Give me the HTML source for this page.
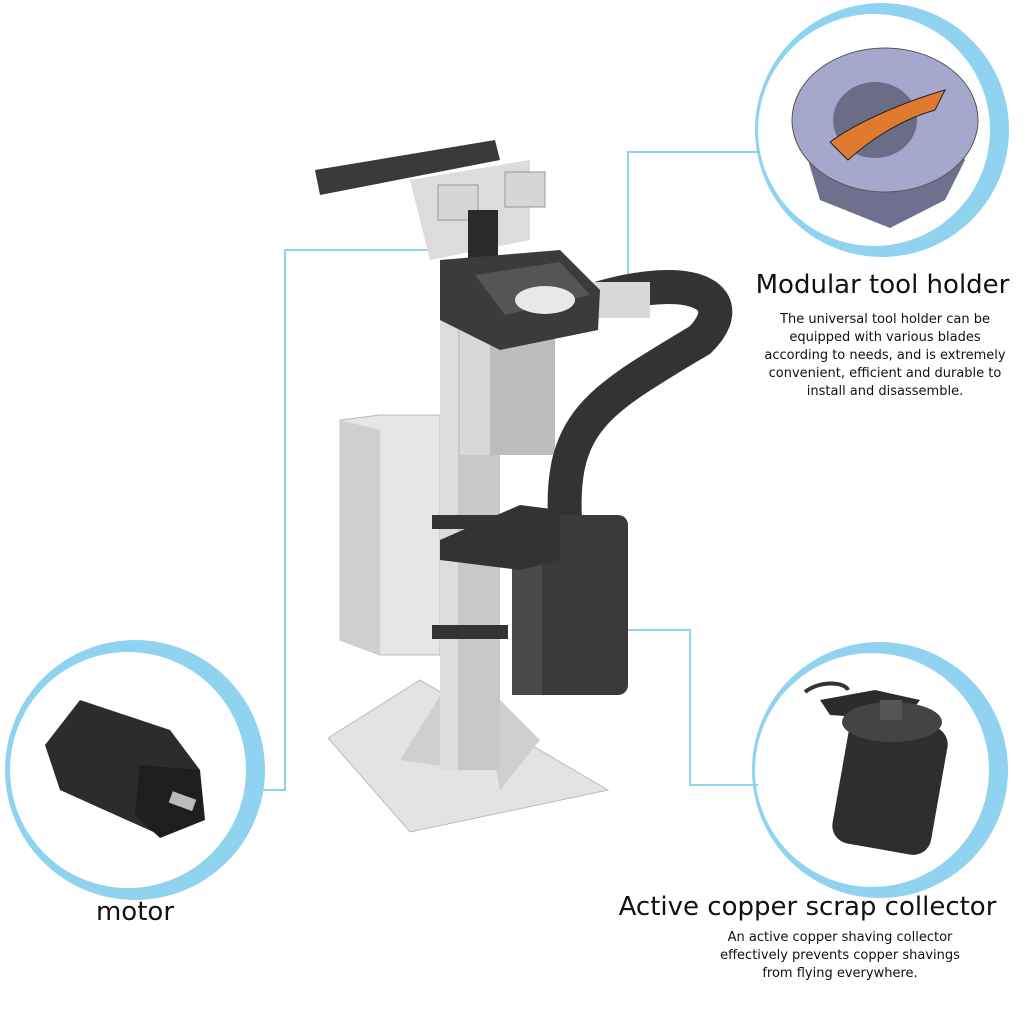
<!DOCTYPE html>
<html><head><meta charset="utf-8"><style>
html,body{margin:0;padding:0;background:#fff}
body{width:1028px;height:1018px;position:relative;overflow:hidden;font-family:"DejaVu Sans","Liberation Sans",sans-serif}
.t{position:absolute;color:#111;white-space:nowrap;text-align:center}
.h{font-size:26px}
.d{font-size:13px;line-height:18px}
</style></head><body>
<svg width="1028" height="1018" style="position:absolute;left:0;top:0">
<circle cx="882" cy="130" r="127" fill="#8fd3f0"/><circle cx="874" cy="130" r="116" fill="#fff"/>
<circle cx="135" cy="770" r="130" fill="#8fd3f0"/><circle cx="128" cy="770" r="118" fill="#fff"/>
<circle cx="880" cy="770" r="128" fill="#8fd3f0"/><circle cx="872" cy="770" r="117" fill="#fff"/>
<g stroke="#8fd3f0" stroke-width="2" fill="none">
<polyline points="430,250 285,250 285,790 258,790"/>
<polyline points="555,298 628,298 628,152 758,152"/>
<polyline points="610,630 690,630 690,785 758,785"/>
</g>
<polygon points="328,738 420,680 608,790 410,832" fill="#e3e3e3" stroke="#bbb"/>
<polygon points="400,760 450,680 470,770" fill="#cfcfcf"/>
<polygon points="480,680 540,740 500,790" fill="#cfcfcf"/>
<polygon points="340,420 380,415 440,415 440,655 380,655 340,640" fill="#e6e6e6" stroke="#bbb"/>
<polygon points="340,420 380,430 380,655 340,640" fill="#d0d0d0"/>
<rect x="440" y="300" width="60" height="470" fill="#c8c8c8"/>
<rect x="440" y="300" width="18" height="470" fill="#dcdcdc"/>
<rect x="432" y="515" width="80" height="14" fill="#333"/>
<rect x="432" y="625" width="76" height="14" fill="#333"/>
<rect x="460" y="320" width="95" height="135" fill="#bdbdbd"/>
<rect x="460" y="320" width="30" height="135" fill="#d8d8d8"/>
<polygon points="315,170 495,140 500,160 320,195" fill="#3a3a3a"/>
<polygon points="410,180 530,160 530,240 430,260" fill="#dcdcdc"/>
<rect x="438" y="185" width="40" height="35" fill="#d6d6d6" stroke="#999"/>
<rect x="505" y="172" width="40" height="35" fill="#d6d6d6" stroke="#999"/>
<rect x="468" y="210" width="30" height="50" fill="#2a2a2a"/>
<path d="M600,298 C700,270 740,300 700,340 C600,400 560,420 565,520" stroke="#333" stroke-width="34" fill="none"/>
<rect x="590" y="282" width="60" height="36" fill="#d8d8d8"/>
<polygon points="440,260 560,250 600,290 598,330 500,350 440,320" fill="#3b3b3b"/>
<polygon points="475,275 560,262 590,295 505,315" fill="#555"/>
<ellipse cx="545" cy="300" rx="30" ry="14" fill="#e8e8e8"/>
<rect x="512" y="515" width="116" height="180" rx="10" fill="#3a3a3a"/>
<rect x="512" y="515" width="30" height="180" fill="#4a4a4a"/>
<polygon points="440,540 520,505 560,510 560,560 520,570 440,560" fill="#333"/>
<polygon points="805,150 820,200 890,228 945,200 965,160 955,140" fill="#6f6f8e"/>
<ellipse cx="885" cy="120" rx="93" ry="72" fill="#a5a7cc" stroke="#555" stroke-width="1"/>
<ellipse cx="875" cy="120" rx="42" ry="38" fill="#6b6d86"/>
<path d="M830,142 C860,120 910,100 945,90 L935,110 C900,120 870,140 848,160 Z" fill="#e07a2e" stroke="#222"/>
<polygon points="45,745 80,700 170,730 200,770 160,835 60,790" fill="#2c2c2c"/>
<polygon points="140,765 200,770 205,820 160,838 135,815" fill="#1e1e1e"/>
<rect x="170" y="795" width="25" height="12" fill="#bbb" transform="rotate(20 182 801)"/>
<path d="M805,692 C820,680 845,682 848,690" stroke="#333" stroke-width="4" fill="none"/>
<polygon points="820,700 875,690 920,700 905,720 830,715" fill="#2c2c2c"/>
<rect x="840" y="720" width="100" height="130" rx="18" fill="#2e2e2e" transform="rotate(10 890 785)"/>
<ellipse cx="892" cy="722" rx="50" ry="20" fill="#444"/>
<rect x="880" y="700" width="22" height="20" fill="#555"/>
</svg>
<div class="t h" style="left:740px;top:270px;width:285px">Modular tool holder</div>
<div class="t d" style="left:740px;top:311px;width:290px">The universal tool holder can be<br>equipped with various blades<br>according to needs, and is extremely<br>convenient, efficient and durable to<br>install and disassemble.</div>
<div class="t h" style="left:60px;top:897px;width:150px">motor</div>
<div class="t h" style="left:600px;top:892px;width:415px">Active copper scrap collector</div>
<div class="t d" style="left:690px;top:929px;width:300px">An active copper shaving collector<br>effectively prevents copper shavings<br>from flying everywhere.</div>
</body></html>
